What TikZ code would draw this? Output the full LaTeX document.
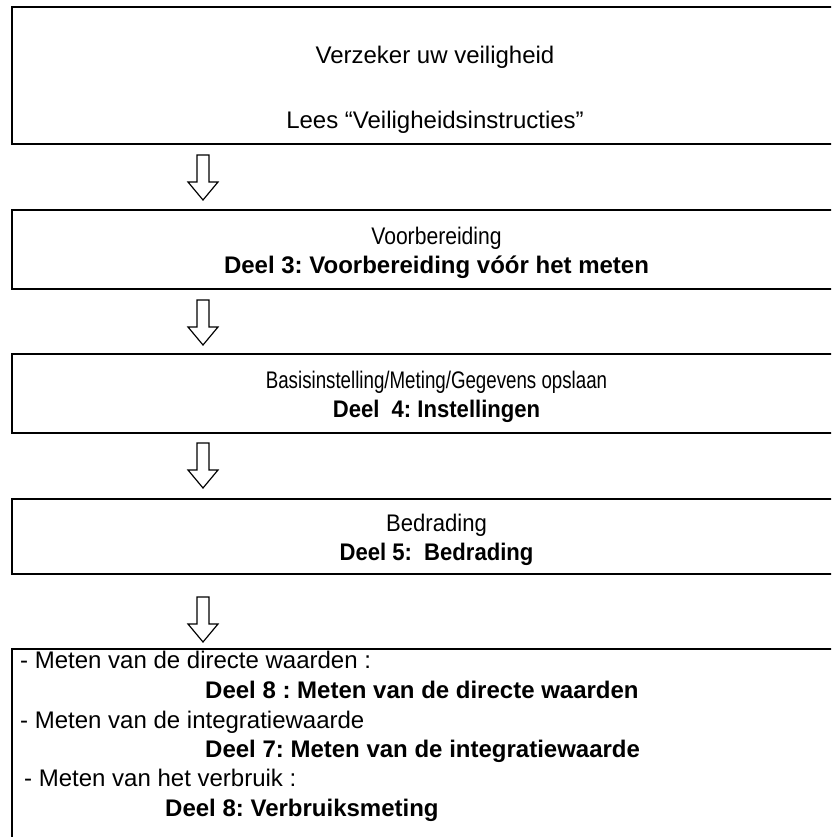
\documentclass[tikz,border=0pt]{standalone}
\usepackage{fontspec}
\usepackage{graphicx}
\setmainfont{Liberation Sans}
\usetikzlibrary{positioning}

\newcommand{\flowarrow}[1]{%
  \draw[hollow] (#1) -- ++(-15,18) -- ++(9,0) -- ++(0,27) -- ++(12,0)
    -- ++(0,-27) -- ++(9,0) -- cycle;}
\newcommand{\narrow}[2]{\scalebox{#1}[1]{#2}}
\newcommand{\topgap}{\rule{0pt}{24pt}}

\begin{document}
\frenchspacing
\begin{tikzpicture}[x=1pt, y=1pt,
  stage/.style={draw, line width=2pt, minimum width=849pt, anchor=north west,
                inner sep=0pt, align=center, font=\fontsize{24}{29}\selectfont},
  txt/.style={inner sep=0pt, font=\fontsize{24}{29}\selectfont},
  hollow/.style={draw, line width=1.2pt, fill=white, line join=miter}
]
\clip (0,0) rectangle (831,-837);

% Safety box (top)
\node[stage, minimum height=137pt] (safety) at (11,-6) {};
\node[txt] (safe1) at (435,-57) {Verzeker uw veiligheid};
\node[txt] (safe2) at (435,-122) {Lees “Veiligheidsinstructies”};

% Preparation
\node[stage, minimum height=79pt] (prep) at (11,-209)
  {\topgap\narrow{0.88}{Voorbereiding}\\ \textbf{Deel 3: Voorbereiding vóór het meten}};

% Settings
\node[stage, minimum height=79pt] (setup) at (11,-353)
  {\topgap\narrow{0.78}{Basisinstelling/Meting/Gegevens opslaan}\\
   \narrow{0.92}{\textbf{Deel\ \ 4: Instellingen}}};

% Wiring
\node[stage, minimum height=75pt] (wiring) at (11,-498)
  {\topgap\narrow{0.92}{Bedrading}\\ \narrow{0.92}{\textbf{Deel 5:\ \ Bedrading}}};

% Measurement (bottom, open)
\node[stage, minimum height=240pt] (measure) at (11,-648) {};
\node[txt, anchor=base west] (m1) at (20,-668) {- Meten van de directe waarden :};
\node[txt, anchor=base west] (m2) at (205,-698) {\textbf{Deel 8 : Meten van de directe waarden}};
\node[txt, anchor=base west] (m3) at (20,-728) {- Meten van de integratiewaarde};
\node[txt, anchor=base west] (m4) at (205,-757) {\textbf{Deel 7: Meten van de integratiewaarde}};
\node[txt, anchor=base west] (m5) at (24,-786) {- Meten van het verbruik :};
\node[txt, anchor=base west] (m6) at (165,-816) {\textbf{Deel 8: Verbruiksmeting}};

% Arrows
\flowarrow{[xshift=192pt, yshift=9pt]prep.north west}
\flowarrow{[xshift=192pt, yshift=8pt]setup.north west}
\flowarrow{[xshift=192pt, yshift=10pt]wiring.north west}
\flowarrow{[xshift=192pt, yshift=6pt]measure.north west}

\end{tikzpicture}
\end{document}
